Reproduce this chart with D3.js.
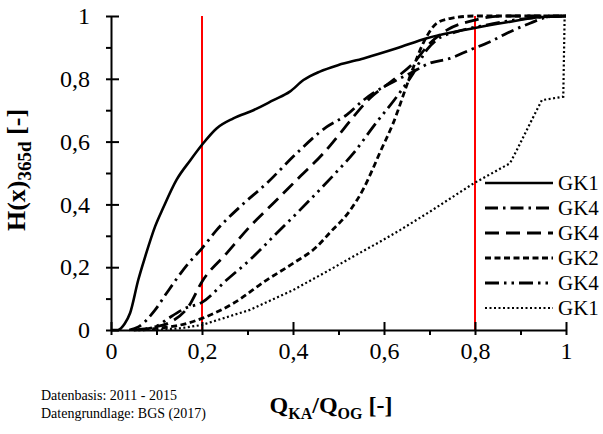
<!DOCTYPE html>
<html>
<head>
<meta charset="utf-8">
<script src="https://cdnjs.cloudflare.com/ajax/libs/d3/7.8.5/d3.min.js"></script>
<style>
  body { margin: 0; background: #fff; }
  svg, svg text { font-family: "Liberation Serif", "Times New Roman", serif !important; }
  svg { display: block; }
</style>
</head>
<body>
<div id="chart"></div>
<script>
// curves (x = Q_KA/Q_OG, y = H(x)365d)
const labels = ['GK1', 'GK4', 'GK4', 'GK2', 'GK4', 'GK1'];

const gk1SolidX = [0, 0.015, 0.03, 0.042, 0.06, 0.075, 0.097, 0.115, 0.144, 0.174, 0.2, 0.232, 0.269, 0.313, 0.357, 0.393, 0.423, 0.459, 0.5, 0.555, 0.628, 0.694, 0.797, 0.87, 0.935, 1];
const gk1SolidY = [0, 0, 0.02, 0.054, 0.16, 0.233, 0.33, 0.39, 0.478, 0.54, 0.59, 0.642, 0.674, 0.7, 0.732, 0.759, 0.796, 0.823, 0.844, 0.865, 0.897, 0.929, 0.961, 0.98, 0.995, 1];

const gk4DashDotX = [0.04, 0.06, 0.097, 0.122, 0.17, 0.2, 0.232, 0.284, 0.342, 0.408, 0.474, 0.518, 0.555, 0.576, 0.628, 0.657, 0.701, 0.745, 0.789, 0.833, 0.87, 0.921, 0.965, 1];
const gk4DashDotY = [0, 0.01, 0.064, 0.117, 0.212, 0.26, 0.318, 0.393, 0.467, 0.563, 0.647, 0.685, 0.732, 0.754, 0.796, 0.817, 0.85, 0.865, 0.892, 0.918, 0.945, 0.977, 0.998, 1];

const gk4LongDashX = [0.05, 0.09, 0.133, 0.17, 0.2, 0.254, 0.305, 0.364, 0.415, 0.467, 0.5, 0.525, 0.569, 0.62, 0.664, 0.701, 0.738, 0.8, 0.86, 1];
const gk4LongDashY = [0, 0.008, 0.027, 0.074, 0.154, 0.244, 0.329, 0.414, 0.488, 0.563, 0.62, 0.665, 0.738, 0.796, 0.849, 0.913, 0.955, 0.987, 1, 1];

const gk2DashX = [0.07, 0.1, 0.15, 0.2, 0.269, 0.342, 0.4, 0.452, 0.481, 0.525, 0.555, 0.576, 0.591, 0.62, 0.657, 0.686, 0.716, 0.745, 0.8, 1];
const gk2DashY = [0, 0.005, 0.015, 0.037, 0.085, 0.159, 0.212, 0.265, 0.31, 0.38, 0.45, 0.515, 0.565, 0.658, 0.807, 0.913, 0.977, 0.992, 1, 1];

const gk4DashDotDotX = [0.06, 0.1, 0.126, 0.163, 0.2, 0.254, 0.305, 0.364, 0.437, 0.5, 0.533, 0.576, 0.628, 0.664, 0.694, 0.716, 0.76, 0.82, 0.9, 1];
const gk4DashDotDotY = [0, 0.012, 0.037, 0.069, 0.088, 0.159, 0.223, 0.308, 0.414, 0.51, 0.563, 0.647, 0.743, 0.817, 0.892, 0.924, 0.95, 0.97, 0.99, 1];

const gk1DotX = [0.09, 0.15, 0.2, 0.305, 0.4, 0.474, 0.525, 0.591, 0.635, 0.701, 0.797, 0.877, 0.892, 0.921, 0.947, 0.994, 0.997, 1];
const gk1DotY = [0, 0.005, 0.016, 0.064, 0.127, 0.186, 0.228, 0.281, 0.318, 0.377, 0.467, 0.531, 0.573, 0.658, 0.732, 0.743, 1, 1];

const redLinesX = [0.2, 0.8];
const majorTicks = [0, 0.2, 0.4, 0.6, 0.8, 1];
const minorTicks = [0.1, 0.3, 0.5, 0.7, 0.9];

const svgWidth = 603;
const svgHeight = 434;
const margin = { top: 16, right: 37, bottom: 104, left: 111 };
const width = svgWidth - margin.left - margin.right;
const height = svgHeight - margin.top - margin.bottom;

const svg = d3.select('#chart')
  .append('svg')
  .attr('width', svgWidth)
  .attr('height', svgHeight);

const chartGroup = svg.append('g')
  .attr('transform', `translate(${margin.left}, ${margin.top})`);

const xScale = d3.scaleLinear().domain([0, 1]).range([0, width]);
const yScale = d3.scaleLinear().domain([0, 1]).range([height, 0]);

const fmt = d => (d === 0 || d === 1) ? String(d) : d3.format('.1f')(d).replace('.', ',');

// red reference lines
chartGroup.selectAll('.ref')
  .data(redLinesX)
  .enter()
  .append('line')
  .attr('x1', d => xScale(d))
  .attr('x2', d => xScale(d))
  .attr('y1', yScale(0))
  .attr('y2', yScale(1))
  .attr('stroke', '#ff0000')
  .attr('stroke-width', 2);

const series = [
  { xs: gk1SolidX, ys: gk1SolidY, dash: null, w: 2.6, curve: d3.curveMonotoneX },
  { xs: gk4DashDotX, ys: gk4DashDotY, dash: '13,5,2.5,5', w: 2.8, curve: d3.curveMonotoneX },
  { xs: gk4LongDashX, ys: gk4LongDashY, dash: '14,7', w: 2.8, curve: d3.curveMonotoneX },
  { xs: gk2DashX, ys: gk2DashY, dash: '6,3.5', w: 2.8, curve: d3.curveMonotoneX },
  { xs: gk4DashDotDotX, ys: gk4DashDotDotY, dash: '14,5,2.5,5,2.5,5', w: 2.8, curve: d3.curveMonotoneX },
  { xs: gk1DotX, ys: gk1DotY, dash: '2,2.5', w: 2.2, curve: d3.curveLinear }
];

series.forEach((s, i) => {
  const pts = s.xs.map((x, j) => [x, s.ys[j]]);
  const line = d3.line()
    .x(d => xScale(d[0]))
    .y(d => yScale(d[1]))
    .curve(s.curve);
  chartGroup.append('path')
    .datum(pts)
    .attr('d', line)
    .attr('fill', 'none')
    .attr('stroke', '#000')
    .attr('stroke-width', s.w)
    .attr('stroke-dasharray', s.dash);
});

// axes: major ticks cross the axis, minor ticks only outside
const xAxis = chartGroup.append('g')
  .attr('transform', `translate(0, ${height})`)
  .call(d3.axisBottom(xScale).tickValues(majorTicks).tickFormat(fmt)
    .tickSizeInner(5).tickSizeOuter(0).tickPadding(7));
xAxis.selectAll('.tick line').attr('y1', -8).attr('stroke-width', 2);
xAxis.select('.domain').attr('stroke-width', 2);
xAxis.selectAll('text').attr('fill', '#000').style('font-size', '24px');

chartGroup.append('g')
  .attr('transform', `translate(0, ${height})`)
  .call(d3.axisBottom(xScale).tickValues(minorTicks).tickFormat('').tickSize(5))
  .call(g => g.select('.domain').remove())
  .selectAll('line').attr('stroke-width', 2);

const yAxis = chartGroup.append('g')
  .call(d3.axisLeft(yScale).tickValues(majorTicks).tickFormat(fmt)
    .tickSizeInner(5).tickSizeOuter(0).tickPadding(16));
yAxis.selectAll('.tick line').attr('x1', 8).attr('stroke-width', 2);
yAxis.select('.domain').attr('stroke-width', 2);
yAxis.selectAll('text').attr('fill', '#000').style('font-size', '24px');

chartGroup.append('g')
  .call(d3.axisLeft(yScale).tickValues(minorTicks).tickFormat('').tickSize(5))
  .call(g => g.select('.domain').remove())
  .selectAll('line').attr('stroke-width', 2);

// legend
const legend = svg.append('g').attr('transform', 'translate(485, 183)');
series.forEach((s, i) => {
  const row = legend.append('g').attr('transform', `translate(0, ${i * 25})`);
  row.append('line')
    .attr('x1', 0).attr('x2', 68)
    .attr('stroke', '#000')
    .attr('stroke-width', s.w)
    .attr('stroke-dasharray', s.dash);
  row.append('text')
    .attr('x', 73)
    .attr('dy', '0.35em')
    .style('font-size', '21px')
    .text(labels[i]);
});

// axis titles
const yTitle = svg.append('text')
  .attr('transform', 'translate(25, 170) rotate(-90)')
  .attr('text-anchor', 'middle')
  .style('font-size', '26px')
  .style('font-weight', 'bold');
yTitle.append('tspan').text('H(x)');
yTitle.append('tspan').attr('dy', 6).style('font-size', '19px').text('365d');
yTitle.append('tspan').attr('dy', -6).text(' [-]');

const xTitle = svg.append('text')
  .attr('x', 331)
  .attr('y', 413)
  .attr('text-anchor', 'middle')
  .style('font-size', '24px')
  .style('font-weight', 'bold');
xTitle.append('tspan').text('Q');
xTitle.append('tspan').attr('dy', 6).style('font-size', '16px').text('KA');
xTitle.append('tspan').attr('dy', -6).text('/Q');
xTitle.append('tspan').attr('dy', 6).style('font-size', '16px').text('OG');
xTitle.append('tspan').attr('dy', -6).text(' [-]');

// source notes
const notes = ['Datenbasis: 2011 - 2015', 'Datengrundlage: BGS (2017)'];
svg.selectAll('.note')
  .data(notes)
  .enter()
  .append('text')
  .attr('x', 41)
  .attr('y', (d, i) => 400 + i * 18)
  .style('font-size', '14px')
  .text(d => d);
</script>
</body>
</html>
